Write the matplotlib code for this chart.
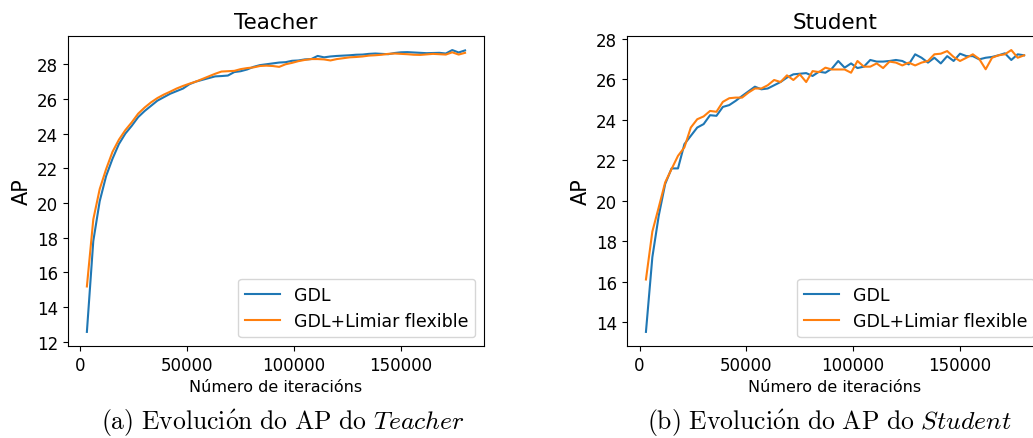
import numpy as np
import matplotlib
matplotlib.use("Agg")
import matplotlib.pyplot as plt
from matplotlib.ticker import MultipleLocator

plt.rcParams['mathtext.fontset'] = 'cm'

# iteracións avaliadas (cada 3000)
iters = np.arange(3000, 180001, 3000)

teacher_gdl = [12.56, 17.8, 20.1, 21.55, 22.55, 23.4, 24.0, 24.45, 24.95, 25.3,
               25.6, 25.9, 26.1, 26.3, 26.45, 26.6, 26.85, 27.0, 27.1, 27.2,
               27.3, 27.32, 27.35, 27.55, 27.6, 27.7, 27.85, 27.95, 28.0, 28.05,
               28.1, 28.12, 28.2, 28.22, 28.28, 28.3, 28.48, 28.4, 28.45, 28.48,
               28.5, 28.52, 28.55, 28.56, 28.6, 28.62, 28.6, 28.58, 28.65, 28.69,
               28.7, 28.68, 28.66, 28.64, 28.65, 28.66, 28.62, 28.82, 28.68, 28.8]
teacher_flex = [15.18, 19.05, 20.8, 21.95, 22.95, 23.65, 24.2, 24.65, 25.15, 25.5,
                25.8, 26.05, 26.25, 26.42, 26.6, 26.75, 26.88, 27.0, 27.15, 27.3,
                27.45, 27.58, 27.6, 27.62, 27.72, 27.78, 27.82, 27.9, 27.92, 27.9,
                27.85, 28.0, 28.08, 28.18, 28.25, 28.3, 28.3, 28.28, 28.22, 28.3,
                28.35, 28.4, 28.42, 28.45, 28.5, 28.52, 28.55, 28.6, 28.62, 28.6,
                28.58, 28.55, 28.54, 28.57, 28.6, 28.58, 28.56, 28.69, 28.56, 28.66]

student_gdl = [13.51, 17.2, 19.26, 20.82, 21.59, 21.59, 22.79, 23.2, 23.61, 23.78,
               24.22, 24.19, 24.63, 24.72, 24.93, 25.17, 25.4, 25.63, 25.5, 25.54,
               25.7, 25.86, 26.08, 26.24, 26.27, 26.3, 26.16, 26.37, 26.32, 26.52,
               26.9, 26.57, 26.78, 26.55, 26.62, 26.95, 26.87, 26.87, 26.9, 26.95,
               26.9, 26.73, 27.23, 27.06, 26.82, 27.06, 26.78, 27.14, 26.9, 27.26,
               27.14, 27.14, 26.98, 27.06, 27.1, 27.18, 27.28, 26.95, 27.23, 27.18]
student_flex = [16.1, 18.47, 19.67, 20.9, 21.56, 22.21, 22.63, 23.61, 24.02, 24.16,
                24.43, 24.39, 24.88, 25.06, 25.09, 25.09, 25.34, 25.54, 25.54, 25.7,
                25.96, 25.86, 26.19, 25.96, 26.24, 25.86, 26.4, 26.35, 26.57, 26.48,
                26.48, 26.48, 26.32, 26.9, 26.62, 26.62, 26.78, 26.55, 26.87, 26.82,
                26.68, 26.82, 26.68, 26.82, 26.9, 27.23, 27.26, 27.39, 27.1, 26.9,
                27.06, 27.23, 27.0, 26.49, 27.06, 27.18, 27.23, 27.44, 27.06, 27.18]

labels = ["GDL", "GDL+Limiar flexible"]
titles = ["Teacher", "Student"]
captions = [r"$\mathrm{(a)\ Evoluci\acute{o}n\ do\ AP\ do\ }\mathit{Teacher}$",
            r"$\mathrm{(b)\ Evoluci\acute{o}n\ do\ AP\ do\ }\mathit{Student}$"]

fig = plt.figure(figsize=(10.33, 4.39), dpi=100)
ax1 = fig.add_axes([0.0658, 0.2096, 0.4027, 0.7062])
ax2 = fig.add_axes([0.607, 0.2096, 0.4027, 0.7062])

series = [(teacher_gdl, teacher_flex), (student_gdl, student_flex)]
for ax, (gdl, flex), title in zip([ax1, ax2], series, titles):
    ax.plot(iters, gdl, label=labels[0])
    ax.plot(iters, flex, label=labels[1])
    ax.set_title(title, fontsize=15.5)
    ax.set_ylabel("AP", fontsize=15)
    ax.set_xlabel("Número de iteracións", fontsize=11.5)
    ax.xaxis.set_major_locator(MultipleLocator(50000))
    ax.yaxis.set_major_locator(MultipleLocator(2))
    ax.tick_params(labelsize=12)
    ax.legend(loc="lower right", fontsize=12.5)

fig.text(0.274, 0.036, captions[0], ha="center", va="center", fontsize=18.5)
fig.text(0.803, 0.036, captions[1], ha="center", va="center", fontsize=18.5)

fig.savefig("out.png", dpi=100)
